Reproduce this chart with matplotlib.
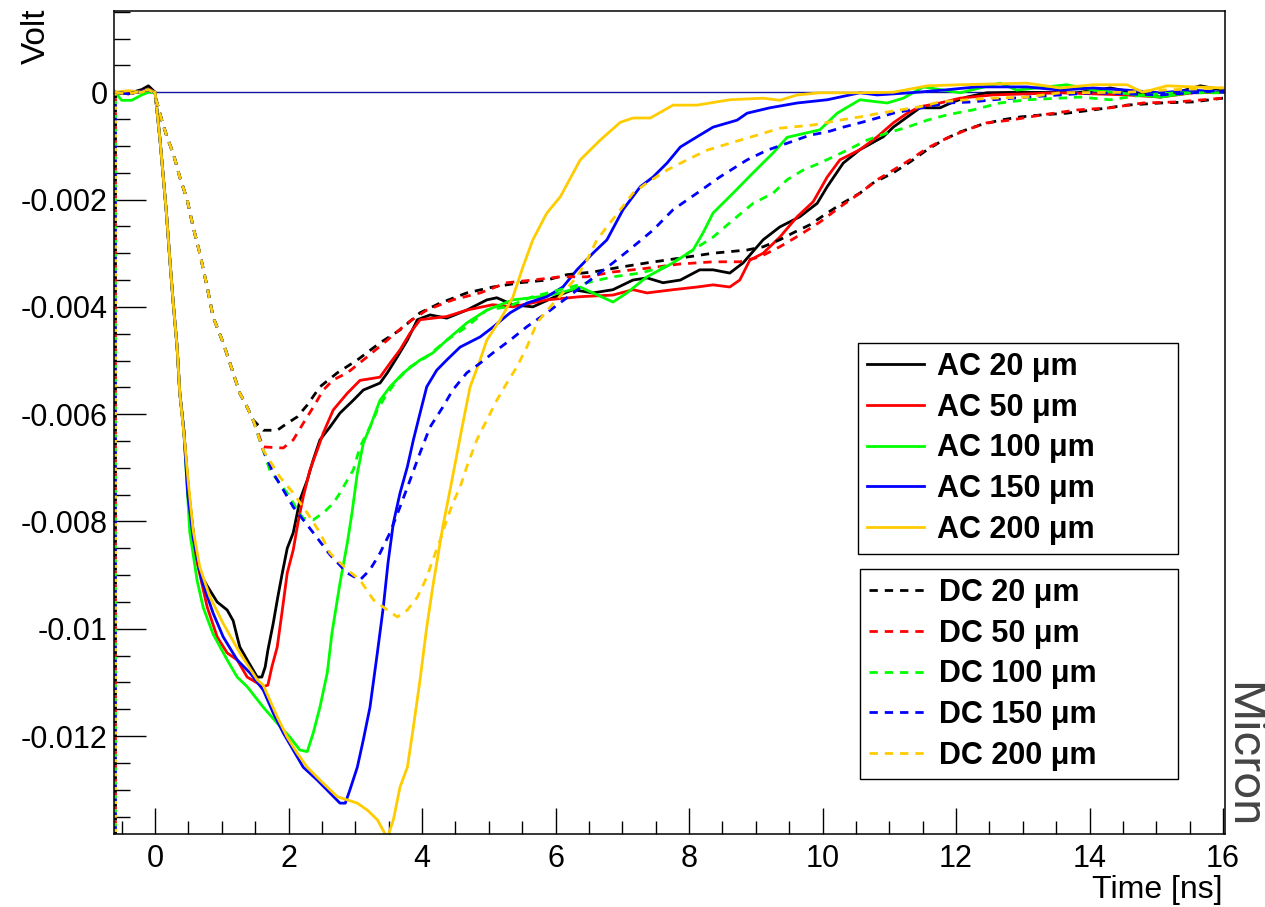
import numpy as np
import matplotlib
matplotlib.use('Agg')
import matplotlib.pyplot as plt
from matplotlib.ticker import MultipleLocator, FuncFormatter
from matplotlib.lines import Line2D

# (time [ns], signal [mV])
ac_20 = [(-0.6, 0.0), (-0.4, -0.02), (-0.2, 0.05), (-0.1, 0.12), (0.0, 0.0), (0.075, -0.9), (0.17, -2.25),
         (0.22, -3.1), (0.27, -3.9), (0.33, -4.75), (0.37, -5.6), (0.43, -6.3), (0.5, -7.4), (0.6, -8.5),
         (0.67, -8.96), (0.78, -9.2), (0.93, -9.5), (1.08, -9.65), (1.17, -9.85), (1.23, -10.15), (1.27, -10.34),
         (1.38, -10.58), (1.53, -10.9), (1.6, -10.9), (1.65, -10.71), (1.69, -10.4), (1.77, -9.9), (1.84, -9.4),
         (1.9, -9.0), (1.98, -8.5), (2.07, -8.21),
         (2.17, -7.6), (2.28, -7.23), (2.37, -6.85), (2.47, -6.48), (2.62, -6.24), (2.77, -5.98), (2.97, -5.74),
         (3.12, -5.55), (3.37, -5.42), (3.48, -5.23), (3.63, -4.93), (3.78, -4.62), (3.93, -4.24), (4.12, -4.15),
         (4.37, -4.21), (4.67, -4.06), (4.97, -3.87), (5.12, -3.83), (5.36, -3.96), (5.66, -4.0), (5.96, -3.83),
         (6.26, -3.68), (6.56, -3.74), (6.86, -3.68), (7.16, -3.5), (7.37, -3.46), (7.61, -3.55), (7.87, -3.5),
         (8.16, -3.31), (8.36, -3.31), (8.61, -3.37), (8.81, -3.18), (9.11, -2.75), (9.36, -2.51), (9.66, -2.32),
         (9.92, -2.07), (10.07, -1.76), (10.31, -1.32), (10.56, -1.07), (10.91, -0.83), (11.06, -0.65),
         (11.27, -0.46), (11.46, -0.29), (11.76, -0.29), (11.96, -0.18), (12.16, -0.09), (12.46, -0.01),
         (12.96, 0.0), (13.81, -0.01), (14.31, 0.08), (15.06, -0.09), (15.66, 0.12), (16.0, 0.04)]

ac_50 = [(-0.6, 0.0), (-0.4, -0.03), (-0.2, 0.02), (-0.1, 0.06), (0.0, 0.0), (0.075, -0.9), (0.17, -2.25),
         (0.22, -3.1), (0.27, -3.9), (0.33, -4.75), (0.37, -5.6), (0.43, -6.3), (0.5, -7.5), (0.6, -8.6),
         (0.78, -9.59), (0.93, -10.15), (1.08, -10.45), (1.23, -10.58), (1.38, -10.9), (1.53, -11.01),
         (1.62, -11.08), (1.69, -11.05), (1.75, -10.71), (1.83, -10.34), (1.9, -9.71), (1.98, -8.96),
         (2.07, -8.53), (2.14, -8.03), (2.22, -7.54), (2.32, -7.04), (2.43, -6.67), (2.52, -6.35), (2.67, -5.92),
         (2.88, -5.61), (3.07, -5.37), (3.37, -5.31), (3.52, -5.05), (3.67, -4.8), (3.82, -4.49), (3.97, -4.24),
         (4.37, -4.18), (4.67, -4.06), (5.06, -3.96), (5.36, -4.0), (5.87, -3.87), (6.37, -3.81), (6.86, -3.78),
         (7.16, -3.68), (7.37, -3.74), (7.76, -3.68), (8.12, -3.63), (8.36, -3.59), (8.61, -3.63), (8.76, -3.5),
         (8.91, -3.13), (9.11, -3.0), (9.36, -2.7), (9.62, -2.32), (9.86, -2.04), (10.07, -1.58), (10.26, -1.26),
         (10.56, -1.07), (10.82, -0.83), (11.06, -0.57), (11.27, -0.39), (11.46, -0.27), (11.76, -0.2),
         (12.06, -0.11), (12.55, -0.05), (13.56, -0.01), (14.56, -0.05), (15.06, -0.09), (15.55, -0.01),
         (16.0, 0.0)]

ac_100 = [(-0.6, 0.0), (-0.5, -0.15), (-0.35, -0.15), (-0.2, -0.05), (-0.1, 0.0), (0.0, 0.0), (0.075, -0.9),
          (0.17, -2.25), (0.22, -3.1), (0.27, -3.9), (0.33, -4.75), (0.37, -5.6), (0.43, -6.3), (0.52, -8.2),
          (0.63, -9.1), (0.72, -9.6), (0.87, -10.1), (1.08, -10.58), (1.23, -10.9), (1.38, -11.08),
          (1.62, -11.46), (1.83, -11.76), (2.02, -12.02), (2.17, -12.26), (2.28, -12.29),
          (2.37, -11.94), (2.47, -11.46), (2.58, -10.82), (2.65, -10.08), (2.77, -9.15), (2.88, -8.4),
          (2.95, -7.84), (3.03, -7.1), (3.12, -6.54), (3.22, -6.24), (3.37, -5.74), (3.52, -5.49), (3.72, -5.23),
          (3.97, -4.99), (4.16, -4.86), (4.37, -4.62), (4.67, -4.3), (4.97, -4.06), (5.36, -3.87), (5.77, -3.81),
          (6.07, -3.74), (6.37, -3.63), (6.56, -3.74), (6.86, -3.91), (7.07, -3.74), (7.37, -3.44), (7.76, -3.18),
          (8.06, -2.94), (8.21, -2.62), (8.36, -2.25), (8.66, -1.88), (8.96, -1.5), (9.26, -1.13), (9.47, -0.84),
          (9.96, -0.7), (10.22, -0.39), (10.56, -0.14), (10.97, -0.2), (11.21, -0.11), (11.51, 0.1),
          (12.06, -0.01), (12.66, 0.17), (12.91, 0.04), (13.66, 0.14), (14.05, 0.04), (15.06, -0.09),
          (15.55, 0.0), (16.0, 0.0)]

ac_150 = [(-0.6, 0.0), (-0.4, -0.03), (-0.2, 0.02), (-0.1, 0.05), (0.0, 0.0), (0.075, -0.9), (0.17, -2.25),
          (0.22, -3.1), (0.27, -3.9), (0.33, -4.75), (0.37, -5.6), (0.43, -6.3), (0.49, -7.5), (0.57, -8.3),
          (0.7, -9.1), (0.87, -9.71), (1.02, -10.15), (1.23, -10.58), (1.42, -10.82), (1.62, -11.14),
          (1.77, -11.57), (1.92, -11.94), (2.07, -12.26), (2.22, -12.58), (2.43, -12.82), (2.62, -13.06),
          (2.77, -13.25), (2.85, -13.25), (2.92, -13.0), (3.03, -12.58), (3.12, -12.07), (3.22, -11.46),
          (3.33, -10.45), (3.42, -9.59), (3.49, -8.77), (3.57, -8.03), (3.67, -7.47), (3.78, -6.98), (3.87, -6.48),
          (3.97, -5.98), (4.07, -5.49), (4.22, -5.18), (4.37, -4.99), (4.57, -4.75), (4.87, -4.56), (5.06, -4.38),
          (5.32, -4.11), (5.57, -3.93), (5.87, -3.81), (6.11, -3.63), (6.32, -3.31), (6.56, -3.0), (6.77, -2.75),
          (7.01, -2.19), (7.27, -1.76), (7.46, -1.58), (7.67, -1.32), (7.87, -1.02), (8.12, -0.83), (8.36, -0.65),
          (8.72, -0.52), (8.87, -0.39), (9.21, -0.29), (9.62, -0.2), (10.07, -0.14), (10.56, -0.01),
          (10.82, -0.05), (11.31, -0.01), (11.81, 0.04), (12.31, 0.1), (13.06, 0.1), (13.56, 0.04), (14.05, 0.08),
          (14.56, 0.04), (15.06, -0.01), (15.55, 0.04), (16.0, 0.0)]

ac_200 = [(-0.6, 0.0), (-0.4, 0.03), (-0.2, 0.0), (-0.1, 0.05), (0.0, 0.0), (0.075, -0.9), (0.17, -2.25),
          (0.22, -3.1), (0.27, -3.9), (0.33, -4.75), (0.37, -5.6), (0.45, -6.6), (0.5, -7.3), (0.57, -8.16),
          (0.67, -8.85), (0.82, -9.4), (1.02, -9.9), (1.27, -10.45), (1.53, -10.95), (1.62, -11.05),
          (1.72, -11.33), (1.83, -11.64), (1.98, -12.02), (2.13, -12.32), (2.28, -12.58), (2.47, -12.82),
          (2.73, -13.13), (3.03, -13.25), (3.18, -13.38), (3.33, -13.56), (3.48, -13.9), (3.57, -13.56),
          (3.67, -12.95), (3.78, -12.58), (3.87, -11.83), (3.97, -10.95), (4.07, -9.97), (4.16, -9.22),
          (4.31, -8.1), (4.42, -7.41), (4.6, -6.24), (4.72, -5.49), (4.87, -4.99), (4.97, -4.62), (5.17, -4.24),
          (5.36, -3.82), (5.51, -3.26), (5.66, -2.75), (5.87, -2.25), (6.07, -1.95), (6.37, -1.26), (6.67, -0.89),
          (6.97, -0.56), (7.16, -0.48), (7.42, -0.48), (7.76, -0.24), (8.12, -0.24), (8.61, -0.14), (9.11, -0.11),
          (9.36, -0.15), (9.62, -0.05), (9.96, -0.01), (10.56, -0.01), (11.06, 0.0), (11.57, 0.12), (12.06, 0.14),
          (13.06, 0.17), (13.56, 0.08), (14.05, 0.14), (14.56, 0.14), (14.8, 0.0), (15.16, 0.12), (15.55, 0.1),
          (16.0, 0.08)]

dc_20 = [(-0.6, 0.0), (-0.4, -0.03), (-0.2, 0.02), (-0.1, 0.05), (-0.03, 0.0), (0.03, -0.2), (0.1, -0.52),
         (0.18, -0.84), (0.27, -1.13), (0.37, -1.58), (0.48, -2.0), (0.57, -2.51), (0.67, -3.0), (0.78, -3.63),
         (0.87, -4.19), (1.02, -4.67), (1.17, -5.23), (1.27, -5.61), (1.38, -5.87), (1.47, -6.11), (1.62, -6.3),
         (1.83, -6.3), (1.98, -6.17), (2.13, -6.05), (2.28, -5.83), (2.47, -5.49), (2.73, -5.23), (3.03, -4.99),
         (3.37, -4.67), (3.67, -4.43), (3.97, -4.11), (4.27, -3.93), (4.67, -3.74), (5.06, -3.63), (5.47, -3.55),
         (5.87, -3.5), (6.17, -3.4), (6.56, -3.35), (6.97, -3.26), (7.37, -3.18), (7.87, -3.09), (8.36, -3.0),
         (8.87, -2.94), (9.11, -2.88), (9.36, -2.75), (9.56, -2.62), (9.81, -2.47), (10.07, -2.25), (10.31, -2.06),
         (10.56, -1.88), (10.76, -1.69), (11.06, -1.5), (11.31, -1.3), (11.57, -1.07), (11.81, -0.89),
         (12.06, -0.74), (12.36, -0.61), (12.66, -0.52), (12.96, -0.46), (13.3, -0.42), (13.66, -0.39),
         (14.05, -0.33), (14.56, -0.24), (15.06, -0.2), (15.55, -0.18), (16.0, -0.11)]

dc_50 = [(-0.6, 0.0), (-0.4, -0.03), (-0.2, 0.02), (-0.1, 0.05), (-0.03, 0.0), (0.03, -0.2), (0.1, -0.52),
         (0.18, -0.84), (0.27, -1.13), (0.37, -1.58), (0.48, -2.0), (0.57, -2.51), (0.67, -3.0), (0.78, -3.63),
         (0.87, -4.19), (1.02, -4.67), (1.17, -5.23), (1.27, -5.61), (1.38, -5.87), (1.47, -6.11), (1.62, -6.61),
         (1.92, -6.63), (2.07, -6.48), (2.22, -6.17), (2.37, -5.87), (2.52, -5.55), (2.67, -5.36), (2.88, -5.23),
         (3.18, -4.93), (3.48, -4.62), (3.78, -4.3), (4.07, -4.06), (4.46, -3.87), (4.87, -3.74), (5.27, -3.55),
         (5.66, -3.5), (6.07, -3.44), (6.47, -3.44), (6.86, -3.35), (7.37, -3.28), (7.87, -3.2), (8.36, -3.16),
         (8.76, -3.16), (9.06, -3.07), (9.36, -2.88), (9.66, -2.66), (9.96, -2.42), (10.26, -2.14), (10.56, -1.88),
         (10.82, -1.63), (11.06, -1.45), (11.31, -1.26), (11.57, -1.04), (11.87, -0.85), (12.16, -0.7),
         (12.46, -0.57), (12.81, -0.52), (13.3, -0.42), (13.81, -0.33), (14.31, -0.29), (14.8, -0.2),
         (15.31, -0.18), (16.0, -0.11)]

dc_100 = [(-0.6, 0.0), (-0.4, -0.03), (-0.2, 0.02), (-0.1, 0.05), (-0.03, 0.0), (0.03, -0.2), (0.1, -0.52),
          (0.18, -0.84), (0.27, -1.13), (0.37, -1.58), (0.48, -2.0), (0.57, -2.51), (0.67, -3.0), (0.78, -3.63),
          (0.87, -4.19), (1.02, -4.67), (1.17, -5.23), (1.27, -5.61), (1.38, -5.87), (1.47, -6.11), (1.62, -6.67),
          (1.72, -7.05), (1.87, -7.29), (2.02, -7.54), (2.13, -7.79), (2.22, -7.94), (2.37, -7.97), (2.52, -7.84),
          (2.67, -7.66), (2.77, -7.47), (2.88, -7.23), (2.97, -7.04), (3.07, -6.61), (3.22, -6.24), (3.33, -5.92),
          (3.48, -5.61), (3.63, -5.36), (3.82, -5.12), (4.07, -4.93), (4.37, -4.62), (4.67, -4.37), (4.97, -4.06),
          (5.27, -4.0), (5.66, -3.81), (6.07, -3.68), (6.47, -3.55), (6.86, -3.44), (7.27, -3.37), (7.67, -3.24),
          (8.06, -2.94), (8.36, -2.7), (8.66, -2.38), (8.96, -2.07), (9.26, -1.88), (9.47, -1.63), (9.71, -1.45),
          (9.96, -1.32), (10.37, -1.08), (10.67, -0.89), (10.97, -0.76), (11.27, -0.65), (11.57, -0.52),
          (11.87, -0.42), (12.25, -0.33), (12.66, -0.2), (13.06, -0.14), (13.56, -0.11), (13.86, -0.09),
          (14.31, -0.14), (14.8, -0.05), (15.31, -0.01), (16.0, -0.01)]

dc_150 = [(-0.6, 0.0), (-0.4, -0.03), (-0.2, 0.02), (-0.1, 0.05), (-0.03, 0.0), (0.03, -0.2), (0.1, -0.52),
          (0.18, -0.84), (0.27, -1.13), (0.37, -1.58), (0.48, -2.0), (0.57, -2.51), (0.67, -3.0), (0.78, -3.63),
          (0.87, -4.19), (1.02, -4.67), (1.17, -5.23), (1.27, -5.61), (1.38, -5.87), (1.47, -6.11), (1.62, -6.67),
          (1.77, -7.1), (1.92, -7.41), (2.07, -7.73), (2.22, -7.97), (2.37, -8.21), (2.62, -8.62), (2.88, -8.96),
          (3.07, -9.09), (3.22, -8.9), (3.37, -8.59), (3.52, -8.21), (3.67, -7.73), (3.82, -7.23), (3.97, -6.72),
          (4.12, -6.24), (4.31, -5.87), (4.46, -5.55), (4.67, -5.23), (4.87, -5.05), (5.06, -4.86), (5.32, -4.62),
          (5.57, -4.37), (5.87, -4.11), (6.17, -3.83), (6.52, -3.5), (6.86, -3.18), (7.16, -2.88), (7.46, -2.57),
          (7.76, -2.19), (8.12, -1.88), (8.46, -1.58), (8.87, -1.26), (9.17, -1.08), (9.47, -0.95), (9.81, -0.8),
          (10.07, -0.74), (10.31, -0.65), (10.56, -0.57), (10.82, -0.48), (11.06, -0.39), (11.31, -0.33),
          (11.57, -0.27), (11.87, -0.2), (12.25, -0.18), (12.55, -0.14), (13.06, -0.09), (13.56, -0.05),
          (14.05, -0.01), (15.06, -0.05), (15.55, -0.01), (16.0, 0.04)]

dc_200 = [(-0.6, 0.0), (-0.4, -0.03), (-0.2, 0.02), (-0.1, 0.05), (-0.03, 0.0), (0.03, -0.2), (0.1, -0.52),
          (0.18, -0.84), (0.27, -1.13), (0.37, -1.58), (0.48, -2.0), (0.57, -2.51), (0.67, -3.0), (0.78, -3.63),
          (0.87, -4.19), (1.02, -4.67), (1.17, -5.23), (1.27, -5.61), (1.38, -5.87), (1.47, -6.11), (1.62, -6.67),
          (1.87, -7.17), (2.07, -7.47), (2.28, -7.84), (2.47, -8.21), (2.62, -8.59), (2.88, -8.9), (3.07, -9.09),
          (3.27, -9.46), (3.48, -9.65), (3.63, -9.78), (3.78, -9.65), (3.93, -9.41), (4.07, -9.04), (4.16, -8.72),
          (4.27, -8.35), (4.37, -7.97), (4.46, -7.66), (4.57, -7.36), (4.67, -6.98), (4.82, -6.48), (4.97, -6.11),
          (5.12, -5.74), (5.27, -5.42), (5.42, -5.12), (5.57, -4.75), (5.72, -4.3), (5.92, -4.0), (6.11, -3.74),
          (6.32, -3.44), (6.47, -3.13), (6.62, -2.75), (6.77, -2.51), (6.97, -2.19), (7.16, -1.88), (7.37, -1.69),
          (7.67, -1.45), (7.97, -1.26), (8.27, -1.08), (8.61, -0.95), (9.02, -0.8), (9.36, -0.67), (9.86, -0.61),
          (10.26, -0.52), (10.56, -0.46), (10.86, -0.39), (11.46, -0.27), (11.76, -0.18), (12.16, -0.14),
          (12.55, -0.11), (13.06, -0.09), (13.56, -0.01), (14.56, 0.0), (15.06, 0.04), (16.0, 0.08)]

ac_labels = ['AC 20 μm', 'AC 50 μm', 'AC 100 μm', 'AC 150 μm', 'AC 200 μm']
dc_labels = ['DC 20 μm', 'DC 50 μm', 'DC 100 μm', 'DC 150 μm', 'DC 200 μm']
colors = ['black', '#ff0000', '#00ff00', '#0000ff', '#ffcc00']

plt.rcParams['font.family'] = ['Liberation Sans', 'DejaVu Sans']

fig = plt.figure(figsize=(12.65, 9.07), dpi=100)
ax = fig.add_axes([0.0904, 0.0802, 0.878, 0.9077])

xmin, xmax = -0.61, 16.03
ymin, ymax = -0.01383, 0.001515
ax.set_xlim(xmin, xmax)
ax.set_ylim(ymin, ymax)

ax.axhline(0, color='#1414a0', lw=1.0, zorder=1)

lw = 2.0
dash = (3, 2.5)
k = 0
for curves, ls in [([ac_20, ac_50, ac_100, ac_150, ac_200], 'solid'),
                   ([dc_20, dc_50, dc_100, dc_150, dc_200], 'dashed')]:
    for pts, col in zip(curves, colors):
        t, mv = np.array(pts).T
        v = mv * 1e-3
        if ls == 'solid':
            ax.plot(t, v, color=col, lw=lw, zorder=2)
        else:
            ax.plot(t, v, color=col, lw=lw, dashes=dash, zorder=2)
        # histogram edge running up the left frame
        ax.vlines(t[0], ymin, v[0], colors=col, lw=lw, linestyles=[(k, (1, 9))], zorder=2)
        k += 1

ax.xaxis.set_major_locator(MultipleLocator(2))
ax.xaxis.set_minor_locator(MultipleLocator(0.5))
ax.yaxis.set_major_locator(MultipleLocator(0.002))
ax.yaxis.set_minor_locator(MultipleLocator(0.0005))


def fmt(val, pos):
    if abs(val) < 1e-12:
        return '0'
    return '%g' % round(val, 6)


ax.xaxis.set_major_formatter(FuncFormatter(fmt))
ax.yaxis.set_major_formatter(FuncFormatter(fmt))

ax.tick_params(axis='x', which='major', direction='in', length=18.7, width=1, labelsize=22, pad=7, top=False)
ax.tick_params(axis='x', which='minor', direction='in', length=9.4, width=1, top=False)
ax.tick_params(axis='y', which='major', direction='in', length=23, width=1, labelsize=22, pad=5, right=False)
ax.tick_params(axis='y', which='minor', direction='in', length=11.5, width=1, right=False)
for sp in ax.spines.values():
    sp.set_linewidth(1.1)
    sp.set_color('black')

fig.text(36 / 1265, 1 - 9 / 907, 'Volt', rotation=90, ha='center', va='top', fontsize=24)
fig.text(1222 / 1265, 1 - 905 / 907, 'Time [ns]', ha='right', va='bottom', fontsize=23)
fig.text(1.0, 1 - 755 / 907, 'Micron', rotation=-90, ha='right', va='center', fontsize=34,
         color='#444444', family='Roboto')

leg_kw = dict(loc='upper left', mode='expand', prop=dict(weight='bold', size=22), frameon=True,
              fancybox=False, edgecolor='black', framealpha=1, borderpad=0.29, labelspacing=0.35,
              handlelength=1.87, handletextpad=0.43, borderaxespad=0)

h_ac = [Line2D([], [], color=c, lw=lw) for c in colors]
h_dc = [Line2D([], [], color=c, lw=lw, dashes=dash) for c in colors]

leg1 = ax.legend(h_ac, ac_labels, bbox_to_anchor=(0.6696, 0.5967, 0.2881, 0), **leg_kw)
leg1.get_frame().set_linewidth(1.0)
ax.add_artist(leg1)
leg2 = ax.legend(h_dc, dc_labels, bbox_to_anchor=(0.6714, 0.3222, 0.2863, 0), **leg_kw)
leg2.get_frame().set_linewidth(1.0)

fig.savefig('out.png', dpi=100)
